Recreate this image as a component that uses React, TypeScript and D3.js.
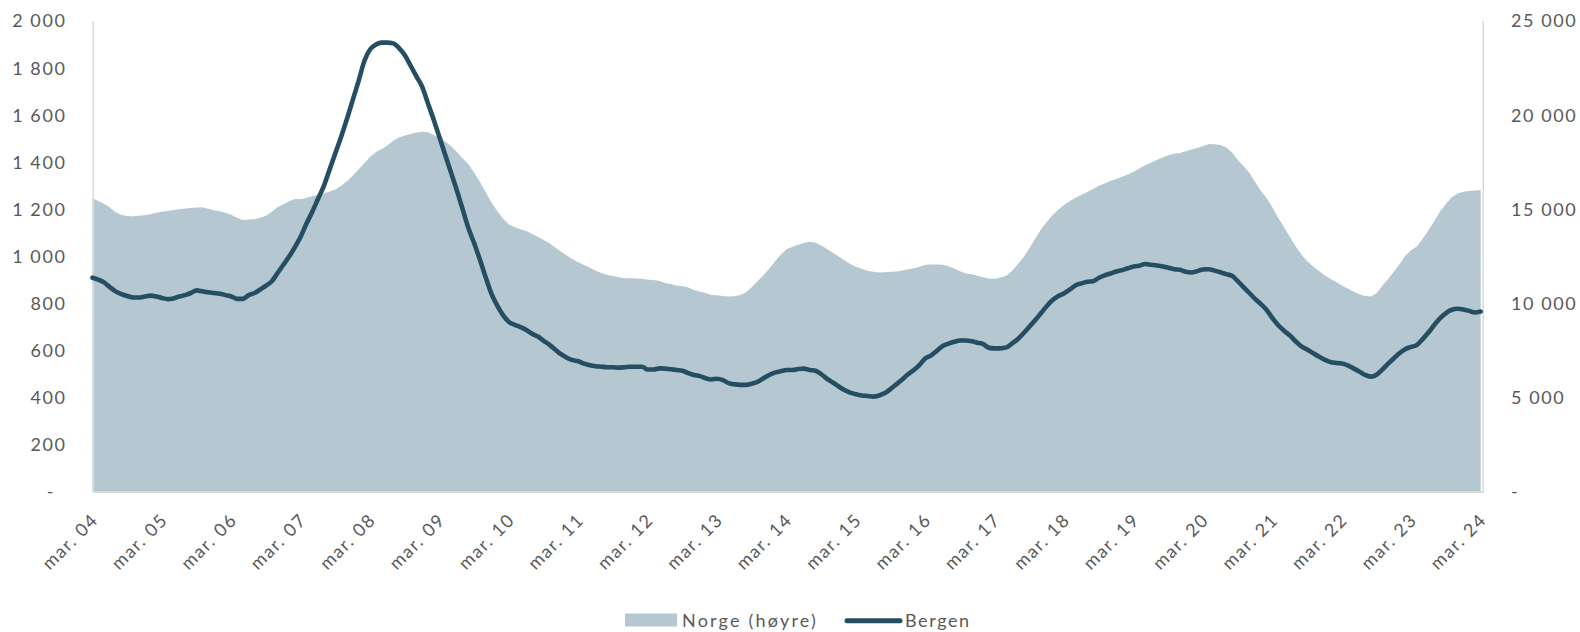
import React from "react";
import * as d3 from "d3";

// Category tick labels (every 12 months, monthly data from mar. 04 to mar. 24)
const xTickLabels = [
  "mar. 04", "mar. 05", "mar. 06", "mar. 07", "mar. 08", "mar. 09", "mar. 10",
  "mar. 11", "mar. 12", "mar. 13", "mar. 14", "mar. 15", "mar. 16", "mar. 17",
  "mar. 18", "mar. 19", "mar. 20", "mar. 21", "mar. 22", "mar. 23", "mar. 24",
];
const leftTicks = [0, 200, 400, 600, 800, 1000, 1200, 1400, 1600, 1800, 2000];
const rightTicks = [0, 5000, 10000, 15000, 20000, 25000];

const seriesNames = ["Norge (høyre)", "Bergen"];

// Bergen (left axis), monthly
const bergen = [
  910, 902, 890, 870, 852, 840, 832, 826, 826, 830, 834, 830,
  824, 819, 822, 830, 836, 845, 856, 852, 848, 845, 842, 836,
  830, 820, 820, 836, 845, 860, 876, 895, 930, 965, 1000, 1040,
  1085, 1140, 1190, 1245, 1300, 1370, 1440, 1510, 1585, 1665, 1745, 1830,
  1880, 1900, 1908, 1908, 1905, 1885, 1855, 1810, 1765, 1720, 1650, 1580,
  1505, 1430, 1355, 1280, 1200, 1120, 1055, 985, 910, 840, 790, 750,
  722, 710, 700, 688, 672, 660, 642, 625, 605, 585, 570, 560,
  555, 545, 538, 534, 532, 530, 530, 528, 530, 532, 532, 532,
  520, 520, 525, 524, 521, 518, 515, 505, 497, 492, 483, 478,
  481, 475, 462, 457, 455, 455, 460, 468, 483, 497, 507, 513,
  518, 518, 522, 524, 518, 515, 500, 480, 465, 448, 433, 422,
  415, 410, 408, 405, 410, 420, 438, 458, 478, 500, 518, 540,
  568, 580, 600, 620, 630, 638, 643, 643, 640, 634, 628, 612,
  610, 610, 614, 631, 650, 675, 703, 730, 760, 790, 815, 832,
  844, 860, 878, 886, 893, 895, 910, 920, 928, 936, 942, 950,
  958, 961, 968, 965, 962, 958, 952, 946, 944, 935, 932, 938,
  945, 946, 940, 933, 925, 918, 895, 870, 845, 820, 798, 773,
  738, 708, 685, 665, 640, 618, 605, 590, 575, 562, 552, 548,
  546, 538, 525, 512, 497, 490, 498, 520, 545, 568, 590, 607,
  616, 625, 650, 678, 710, 738, 760, 774, 778, 775, 769, 762,
  766,
];

// Norge (right axis), monthly
const norge = [
  15590, 15450, 15300, 15100, 14850, 14700, 14650, 14640, 14660, 14690, 14740, 14820,
  14880, 14920, 14970, 15010, 15050, 15080, 15100, 15110, 15040, 14960, 14900, 14820,
  14720, 14560, 14440, 14460, 14480, 14560, 14660, 14880, 15120, 15280, 15430, 15550,
  15540, 15620, 15710, 15780, 15850, 15950, 16050, 16250, 16500, 16800, 17120, 17450,
  17800, 18050, 18200, 18400, 18650, 18820, 18920, 19000, 19080, 19120, 19100, 18950,
  18780, 18600, 18350, 18050, 17700, 17400, 16950, 16450, 15900, 15350, 14900, 14500,
  14200, 14050, 13950, 13850, 13700, 13550, 13380, 13200, 12980, 12750, 12550, 12350,
  12200, 12050, 11900, 11750, 11620, 11520, 11460, 11400, 11350, 11340, 11330, 11320,
  11260, 11250, 11200, 11100, 11040, 10950, 10930, 10850, 10720, 10640, 10560, 10460,
  10440, 10400, 10380, 10390, 10460, 10600, 10880, 11200, 11500, 11850, 12250, 12600,
  12880, 13020, 13120, 13220, 13280, 13230, 13080, 12900, 12700, 12500, 12300, 12100,
  11960, 11850, 11750, 11690, 11650, 11660, 11690, 11700, 11760, 11820, 11880, 11960,
  12060, 12080, 12070, 12060, 11980, 11850, 11720, 11600, 11560, 11480, 11400, 11320,
  11320, 11380, 11480, 11750, 12100, 12480, 12950, 13450, 13950, 14350, 14700, 15000,
  15250, 15450, 15620, 15780, 15930, 16080, 16250, 16380, 16520, 16620, 16730, 16850,
  17000, 17170, 17350, 17480, 17620, 17750, 17880, 17950, 18000, 18080, 18180, 18260,
  18360, 18470, 18460, 18420, 18300, 18020, 17620, 17300, 16950, 16450, 15980, 15590,
  15100, 14550, 14050, 13550, 13050, 12600, 12250, 11980, 11740, 11500, 11320, 11150,
  10960, 10800, 10640, 10500, 10400, 10380, 10550, 10950, 11300, 11700, 12100, 12550,
  12850, 13050, 13450, 13900, 14400, 14900, 15300, 15650, 15850, 15940, 15980, 16000,
  16030,
];

const W = 1580;
const H = 632;
const X0 = 92.5;
const X1 = 1480.7;
const YB = 492;
const YT = 21;

const FONT = "Lato, 'Open Sans', sans-serif";
const TXT = "#595959";
const AREA = "#B5C8D2";
const LINE = "#254E62";
const AXIS = "#D9D9D9";

const fmt = (v: number) =>
  v === 0 ? "-" : d3.format(",")(v).replace(/,/g, "\u00a0");

export default function App() {
  const n = Math.min(bergen.length, norge.length);
  const x = d3.scaleLinear().domain([0, n - 1]).range([X0, X1]);
  const yL = d3.scaleLinear().domain([0, 2000]).range([YB, YT]);
  const yR = d3.scaleLinear().domain([0, 25000]).range([YB, YT]);

  const areaPath = d3
    .area<number>()
    .x((_, i) => x(i))
    .y0(YB)
    .y1((d) => yR(d))(norge.slice(0, n)) as string;

  const linePath = d3
    .line<number>()
    .x((_, i) => x(i))
    .y((d) => yL(d))
    .curve(d3.curveMonotoneX)(bergen.slice(0, n)) as string;

  const textStyle: React.CSSProperties = {
    fontFamily: FONT,
    fontSize: 18,
    letterSpacing: "1.6px",
    fill: TXT,
  };
  const legendStyle: React.CSSProperties = {
    ...textStyle,
    letterSpacing: "2.2px",
  };

  return (
    <svg
      width={W}
      height={H}
      style={{ position: "absolute", left: 0, top: 0, background: "#fff" }}
    >
      <path d={areaPath} fill={AREA} />
      {/* axis lines */}
      <line x1={93.3} x2={93.3} y1={YT} y2={YB} stroke={AXIS} strokeWidth={1.5} />
      <line x1={1483.3} x2={1483.3} y1={YT} y2={YB} stroke={AXIS} strokeWidth={1.5} />
      <line x1={X0} x2={1484} y1={YB} y2={YB} stroke={AXIS} strokeWidth={2} />

      <path
        d={linePath}
        fill="none"
        stroke={LINE}
        strokeWidth={4.6}
        strokeLinejoin="round"
        strokeLinecap="round"
      />

      {/* left axis labels */}
      {leftTicks.map((t) => (
        <text
          key={"l" + t}
          x={t === 0 ? 55 : 66.5}
          y={yL(t)}
          dy="0.36em"
          textAnchor="end"
          style={textStyle}
        >
          {fmt(t)}
        </text>
      ))}

      {/* right axis labels */}
      {rightTicks.map((t) => (
        <text
          key={"r" + t}
          x={1511}
          y={yR(t)}
          dy="0.36em"
          textAnchor="start"
          style={textStyle}
        >
          {fmt(t)}
        </text>
      ))}

      {/* x axis labels */}
      {xTickLabels.map((lab, k) => {
        const tx = x(k * 12) + 7;
        const ty = 521;
        return (
          <text
            key={lab}
            transform={`translate(${tx},${ty}) rotate(-45)`}
            textAnchor="end"
            style={textStyle}
          >
            {lab}
          </text>
        );
      })}

      {/* legend */}
      <rect x={625} y={613.5} width={52} height={13} fill={AREA} />
      <text x={682} y={627} style={legendStyle}>
        {seriesNames[0]}
      </text>
      <line
        x1={847}
        x2={900}
        y1={620.7}
        y2={620.7}
        stroke={LINE}
        strokeWidth={5}
        strokeLinecap="round"
      />
      <text x={905} y={627} style={textStyle}>
        {seriesNames[1]}
      </text>
    </svg>
  );
}
